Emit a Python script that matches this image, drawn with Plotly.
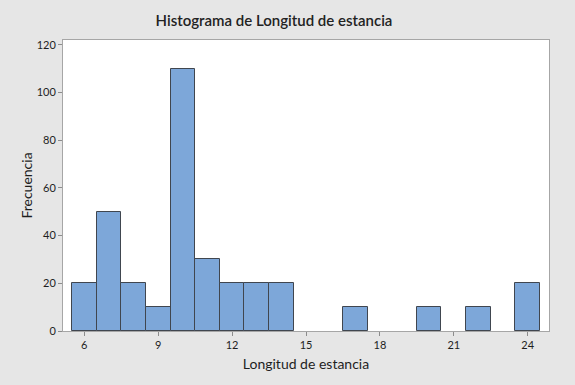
import plotly.graph_objects as go

bin_centers = [6, 7, 8, 9, 10, 11, 12, 13, 14, 17, 20, 22, 24]
frequencies = [20, 50, 20, 10, 110, 30, 20, 20, 20, 10, 10, 10, 20]
x_ticks = [6, 9, 12, 15, 18, 21, 24]
y_ticks = [0, 20, 40, 60, 80, 100, 120]

FONT = "Lato"

fig = go.Figure(
    go.Bar(
        x=bin_centers,
        y=frequencies,
        width=1,
        marker=dict(color="#7DA7D9", line=dict(color="#40464F", width=1)),
        hoverinfo="x+y",
    )
)

fig.update_layout(
    width=575,
    height=385,
    margin=dict(l=63, r=26, t=40, b=54, autoexpand=False),
    paper_bgcolor="#E6E6E6",
    plot_bgcolor="white",
    showlegend=False,
    bargap=0,
    title=dict(
        text="Histograma de Longitud de estancia",
        x=274 / 575,
        xanchor="center",
        y=1 - 21 / 385,
        yanchor="middle",
        font=dict(family=FONT, size=15, color="#222222", weight=600),
    ),
    font=dict(family=FONT, color="#1E1E1E"),
)

fig.update_xaxes(
    range=[5.135, 24.865],
    automargin=False,
    tickvals=x_ticks,
    ticktext=[str(v) for v in x_ticks],
    ticks="outside",
    ticklen=4,
    tickcolor="#8C8C8C",
    showline=True,
    mirror=True,
    linecolor="#A6A6A6",
    linewidth=1,
    showgrid=False,
    zeroline=False,
    tickfont=dict(size=11, family=FONT, color="#1E1E1E"),
    title=dict(text="Longitud de estancia", font=dict(size=14, family=FONT), standoff=8),
)

fig.update_yaxes(
    range=[0, 122],
    automargin=False,
    tickvals=y_ticks,
    ticks="outside",
    ticklen=4,
    tickcolor="#8C8C8C",
    showline=True,
    mirror=True,
    linecolor="#A6A6A6",
    linewidth=1,
    showgrid=False,
    zeroline=False,
    tickfont=dict(size=11, family=FONT, color="#1E1E1E"),
    title=dict(text="Frecuencia", font=dict(size=14, family=FONT), standoff=0),
)

fig.write_html(
    "out.html",
    config={"displayModeBar": False},
    post_script="document.body.style.margin='0';document.body.style.padding='0';",
)
